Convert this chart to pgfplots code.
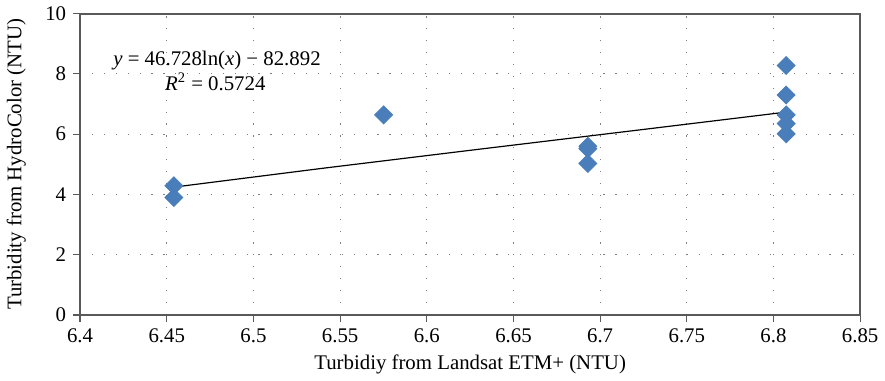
\documentclass[border=0pt]{standalone}
\usepackage{fontspec}
\setmainfont{Liberation Serif}
\usepackage{pgfplots}
\pgfplotsset{compat=1.18}
\definecolor{mblue}{HTML}{4A7EBB}
\definecolor{axgray}{HTML}{595959}
\begin{document}
\begin{tikzpicture}
\begin{axis}[
  scale only axis,
  width=393.5pt, height=152pt,
  xmin=6.4, xmax=6.85, ymin=0, ymax=10,
  xtick={6.4,6.45,...,6.85},
  ytick={0,2,...,10},
  xticklabels={6.4,6.45,6.5,6.55,6.6,6.65,6.7,6.75,6.8,6.85},
  /pgf/number format/assume math mode=true,
  tick label style={font=\fontsize{10.5}{12}\selectfont},
  label style={font=\fontsize{10.5}{12}\selectfont},
  tick align=outside,
  major tick length=3.5pt,
  tick style={axgray, line width=0.6pt},
  xtick pos=bottom, ytick pos=left,
  axis line style={axgray, line width=0.9pt},
  grid=major,
  major grid style={gray, line width=0.5pt, dash pattern=on 0.6pt off 5.4pt},
  xlabel={Turbidiy from Landsat ETM+ (NTU)},
  ylabel={Turbidity from HydroColor (NTU)},
  xlabel style={yshift=1pt},
  ylabel style={yshift=3pt},
  clip=false,
]
\addplot[only marks, mark=square*, mark size=3.2pt, mark options={rotate=45, fill=mblue, draw=mblue}] coordinates {
  (6.4541,4.29) (6.4541,3.90)
  (6.5751,6.64)
  (6.6929,5.60) (6.6929,5.52) (6.6929,5.03)
  (6.8073,8.28) (6.8073,7.30) (6.8073,6.64) (6.8073,6.35) (6.8073,6.01)
};
\addplot[black, line width=0.6pt] coordinates {
  (6.4541,4.2424) (6.54,4.8682) (6.63,5.4989) (6.72,6.1223) (6.8073,6.7321)
};
\node[font=\fontsize{10.5}{12}\selectfont, anchor=center] at (axis cs:6.479,8.45) {\textit{y} = 46.728ln(\textit{x}) − 82.892};
\node[font=\fontsize{10.5}{12}\selectfont, anchor=center] at (axis cs:6.478,7.73) {\textit{R}\textsuperscript{2} = 0.5724};
\end{axis}
\end{tikzpicture}
\end{document}
